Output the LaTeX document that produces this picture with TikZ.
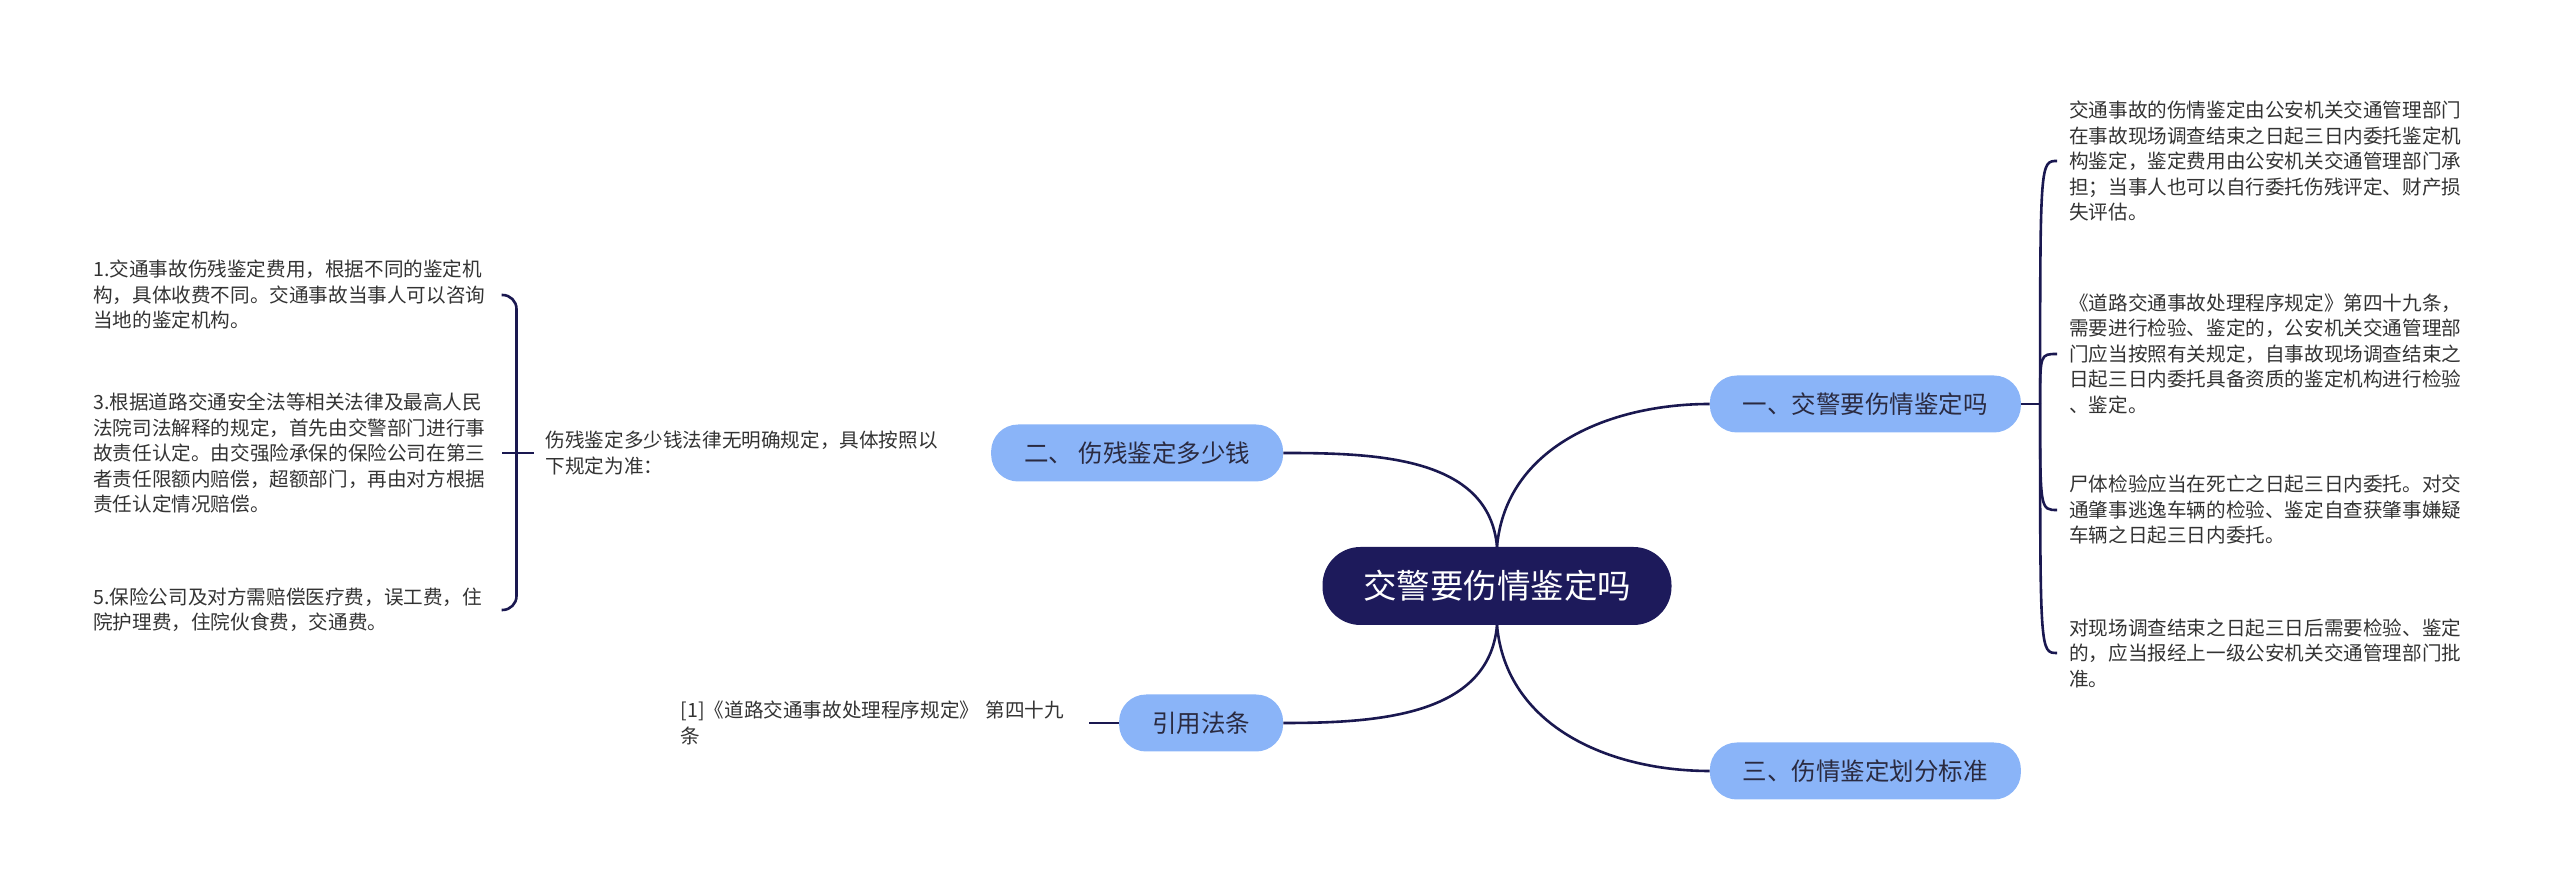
\documentclass[tikz,border=0pt]{standalone}
\usepackage{fontspec}
\setmainfont{Noto Sans CJK SC}
\usepackage{tikz}
\usetikzlibrary{positioning,calc}
\definecolor{rootnavy}{HTML}{1D1A5B}
\definecolor{branchblue}{HTML}{8AB4F8}
\definecolor{linknavy}{HTML}{1A1850}
\definecolor{notegray}{HTML}{333333}
\definecolor{branchtext}{HTML}{2A2A40}

\begin{document}
\begin{tikzpicture}[
    x=1pt, y=1pt,
    root/.style={rectangle, fill=rootnavy, text=white, rounded corners=38pt, minimum width=349pt, minimum height=78pt, font=\fontsize{33.5pt}{40pt}\selectfont},
    branch/.style={rectangle, fill=branchblue, text=branchtext, rounded corners=27pt, inner xsep=33pt, minimum height=57pt, font=\fontsize{24.5pt}{30pt}\selectfont},
    note/.style={text=notegray, align=left, text width=396pt, inner xsep=12pt, inner ysep=0pt, font=\fontsize{19.6pt}{25.5pt}\selectfont},
    link/.style={draw=linknavy, line width=2.6pt}
]
\useasboundingbox (0,0) rectangle (2560,885);

% Nodes
\node [root] (root) at (1497,299) {交警要伤情鉴定吗};
\node [branch, right=38pt of root, yshift=182pt] (b1) {一、交警要伤情鉴定吗};
\node [branch, left=39pt of root, yshift=133pt] (b2) {二、 伤残鉴定多少钱};
\node [branch, right=38pt of root, yshift=-185pt] (b3) {三、伤情鉴定划分标准};
\node [branch, left=39pt of root, yshift=-137pt] (b4) {引用法条};

% right notes
\node [note, right=36pt of b1, yshift=243pt] (r1) {交通事故的伤情鉴定由公安机关交通管理部门\\在事故现场调查结束之日起三日内委托鉴定机\\构鉴定，鉴定费用由公安机关交通管理部门承\\担；当事人也可以自行委托伤残评定、财产损\\失评估。};
\node [note, right=36pt of b1, yshift=50pt] (r2) {《道路交通事故处理程序规定》第四十九条，\\需要进行检验、鉴定的，公安机关交通管理部\\门应当按照有关规定，自事故现场调查结束之\\日起三日内委托具备资质的鉴定机构进行检验\\、鉴定。};
\node [note, right=36pt of b1, yshift=-106pt] (r3) {尸体检验应当在死亡之日起三日内委托。对交\\通肇事逃逸车辆的检验、鉴定自查获肇事嫌疑\\车辆之日起三日内委托。};
\node [note, right=36pt of b1, yshift=-249pt] (r4) {对现场调查结束之日起三日后需要检验、鉴定\\的，应当报经上一级公安机关交通管理部门批\\准。};

% left notes
\node [note, left=37pt of b2] (mid) {伤残鉴定多少钱法律无明确规定，具体按照以\\下规定为准：};
\node [note, left=32pt of mid, yshift=158pt] (l1) {1.交通事故伤残鉴定费用，根据不同的鉴定机\\构，具体收费不同。交通事故当事人可以咨询\\当地的鉴定机构。};
\node [note, left=32pt of mid] (l3) {3.根据道路交通安全法等相关法律及最高人民\\法院司法解释的规定，首先由交警部门进行事\\故责任认定。由交强险承保的保险公司在第三\\者责任限额内赔偿，超额部门，再由对方根据\\责任认定情况赔偿。};
\node [note, left=32pt of mid, yshift=-157pt] (l5) {5.保险公司及对方需赔偿医疗费，误工费，住\\院护理费，住院伙食费，交通费。};
\node [note, left=30pt of b4] (cite) {[1]《道路交通事故处理程序规定》 第四十九\\条};

% Connectors
\draw [link] (root.north) to[out=85,in=180] (b1.west);
\draw [link] (root.north) to[out=95,in=0] (b2.east);
\draw [link] (root.south) to[out=-85,in=180] (b3.west);
\draw [link] (root.south) to[out=-95,in=0] (b4.east);

\coordinate (hubR) at ([xshift=19pt]b1.east);
\draw [link] (b1.east) -- (hubR);
\foreach \n in {r1,r2,r3,r4}
    \draw [link] (hubR) .. controls (hubR |- \n.west) .. (\n.west);

\coordinate (hubL) at ([xshift=-17pt]mid.west);
\draw [link] (mid.west) -- (hubL);
\draw [link] (hubL) -- (l3.east);
\foreach \n in {l1,l5}
    \draw [link, rounded corners=14pt] (hubL) |- (\n.east);

\draw [link] (b4.west) -- (cite.east);

\end{tikzpicture}
\end{document}
